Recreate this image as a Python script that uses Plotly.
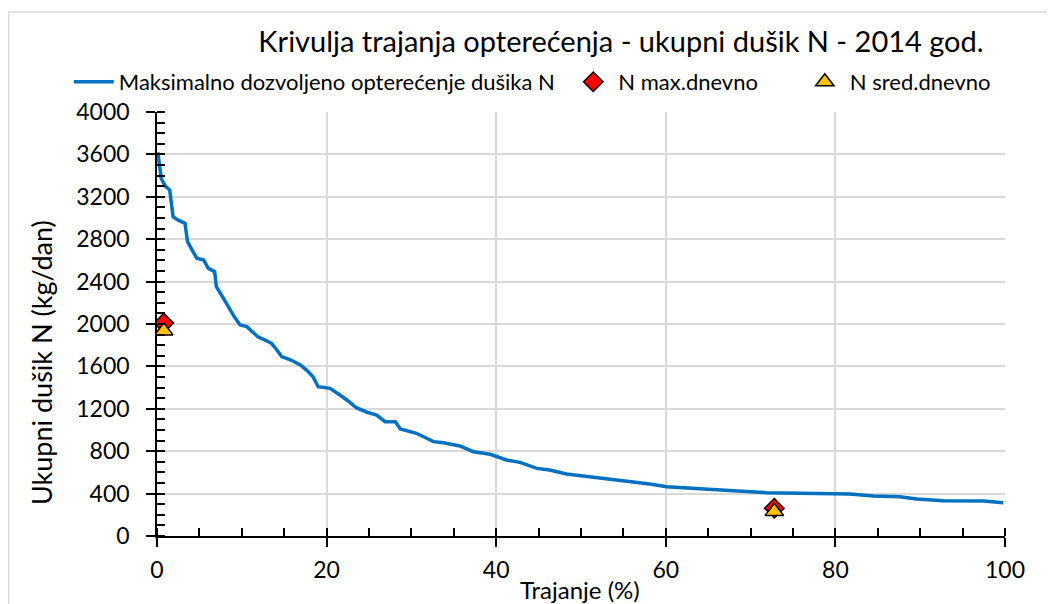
import plotly.graph_objects as go

# duration curve (Trajanje %, kg/dan)
trajanje = [0.1, 0.5, 1.0, 1.5, 1.9, 2.5, 3.3, 3.6, 4.2, 4.7, 5.5, 6.05, 6.8,
            7.0, 7.7, 8.4, 9.1, 9.8, 10.6, 11.2, 11.9, 12.7, 13.5, 14.1, 14.7,
            15.8, 16.9, 17.7, 18.4, 19.0, 20.4, 21.4, 22.4, 23.5, 24.7, 25.9,
            26.9, 28.1, 28.7, 30.6, 32.6, 33.8, 35.7, 37.3, 39.3, 41.2, 42.8,
            44.8, 46.3, 48.3, 50.3, 52.2, 55.8, 58.1, 60.1, 64.0, 68.0, 71.9,
            75.8, 79.8, 81.7, 84.5, 87.6, 89.6, 92.7, 97.5, 99.8]
opterecenje = [3620, 3370, 3300, 3264, 3012, 2980, 2950, 2777, 2690, 2620,
               2604, 2525, 2494, 2352, 2260, 2163, 2070, 1990, 1975, 1930,
               1880, 1850, 1818, 1760, 1692, 1660, 1613, 1560, 1503, 1409,
               1393, 1340, 1283, 1210, 1170, 1141, 1078, 1078, 1010, 969, 890,
               880, 849, 795, 771, 717, 695, 638, 623, 585, 566, 553, 512, 490,
               465, 450, 428, 409, 403, 396, 396, 377, 371, 349, 333, 330, 314]

max_x = [0.8, 72.8]
max_y = [2010, 262]
sred_x = [0.8, 72.8]
sred_y = [1935, 232]

x_ticks = [0, 20, 40, 60, 80, 100]
y_ticks = list(range(0, 4001, 400))
x_minor = list(range(0, 101, 5))
y_minor = list(range(0, 4001, 100))

FONT = "Lato"


def legend_box(x):
    return dict(orientation="h", x=x, xanchor="left", y=1.071,
                yanchor="middle", font=dict(size=22, family=FONT),
                bgcolor="rgba(0,0,0,0)", itemwidth=40)


fig = go.Figure()
fig.add_trace(go.Scatter(
    x=trajanje, y=opterecenje, mode="lines",
    name="Maksimalno dozvoljeno opterećenje dušika N",
    line=dict(color="#0070C0", width=3.5), legend="legend",
))
fig.add_trace(go.Scatter(
    x=max_x, y=max_y, mode="markers", name="N max.dnevno",
    marker=dict(symbol="diamond", size=15, color="#FF0000",
                line=dict(color="black", width=1.5)), legend="legend2",
))
fig.add_trace(go.Scatter(
    x=sred_x, y=sred_y, mode="markers", name="N sred.dnevno",
    marker=dict(symbol="triangle-up", size=16, color="#FFC000",
                line=dict(color="black", width=1.5)), legend="legend3",
))

# the page body adds an 8px margin, so the figure is drawn 8px smaller
fig.update_layout(
    width=1047, height=596,
    margin=dict(l=149, r=50, t=104, b=68),
    paper_bgcolor="white", plot_bgcolor="white",
    font=dict(family=FONT, color="black", size=23),
    title=dict(text="Krivulja trajanja opterećenja - ukupni dušik N - 2014 god.",
               x=0.5855, xanchor="center", y=0.943, yanchor="middle",
               font=dict(size=29, color="black", family=FONT)),
    legend=legend_box(-0.104),
    legend2=legend_box(0.485),
    legend3=legend_box(0.758),
    showlegend=True,
    shapes=[dict(type="rect", xref="paper", yref="paper",
                 x0=-0.175, x1=1.2, y0=-0.3, y1=1.236,
                 line=dict(color="#d9d9d9", width=1.5), layer="below")],
    annotations=[
        dict(text="Trajanje (%)", xref="paper", yref="paper", x=0.499,
             y=-0.125, xanchor="center", yanchor="middle", showarrow=False,
             font=dict(size=24)),
        dict(text="Ukupni dušik N (kg/dan)", xref="paper", yref="paper",
             x=-0.137, y=0.41, xanchor="center", yanchor="middle",
             textangle=-90, showarrow=False, font=dict(size=27)),
    ],
)

fig.update_xaxes(
    range=[0, 100], tickmode="array", tickvals=x_ticks,
    showgrid=True, gridcolor="#d9d9d9", gridwidth=1.5,
    showline=True, linecolor="black", linewidth=1.5,
    ticks="outside", ticklen=9, tickwidth=1.8, tickcolor="black",
    ticklabelstandoff=4, zeroline=False,
    minor=dict(ticks="inside", tickmode="array", tickvals=x_minor,
               ticklen=8, tickwidth=1.5, tickcolor="black", showgrid=False),
)
fig.update_yaxes(
    range=[0, 4000], tickmode="array", tickvals=y_ticks,
    showgrid=True, gridcolor="#d9d9d9", gridwidth=1.5,
    showline=True, linecolor="black", linewidth=1.5,
    ticks="outside", ticklen=9, tickwidth=1.8, tickcolor="black",
    ticklabelstandoff=12, zeroline=False,
    minor=dict(ticks="inside", tickmode="array", tickvals=y_minor,
               ticklen=8, tickwidth=1.5, tickcolor="black", showgrid=False),
)

fig.write_html("out.html")
